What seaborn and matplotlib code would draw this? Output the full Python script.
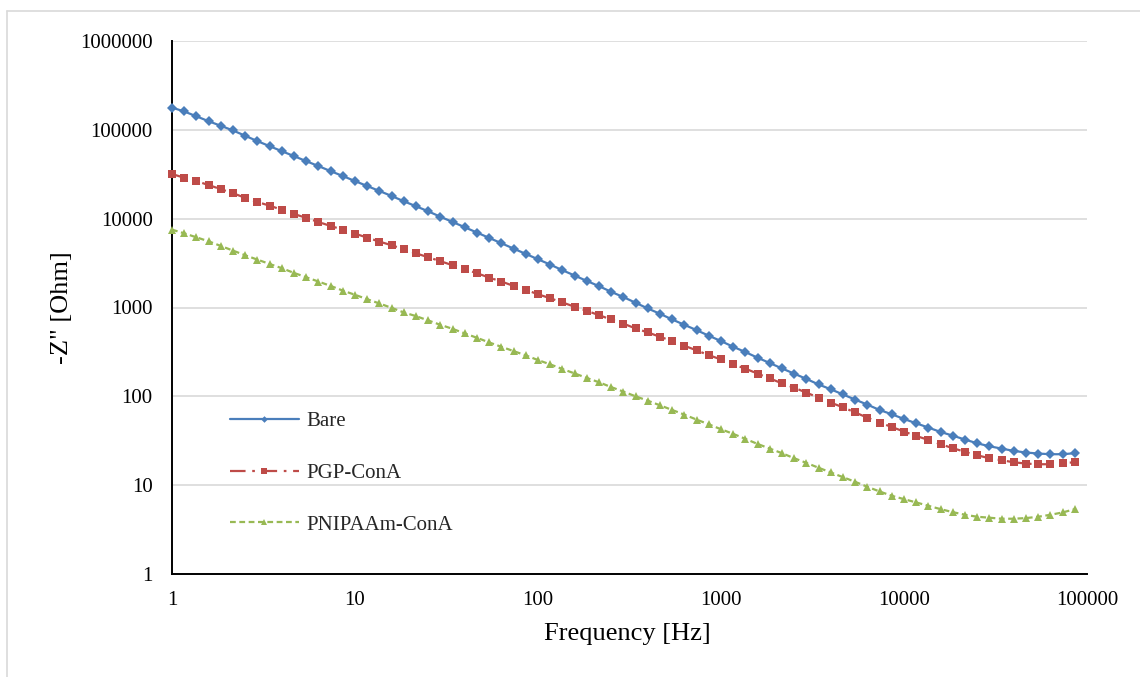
import matplotlib
matplotlib.use("Agg")
import matplotlib.pyplot as plt
from matplotlib.lines import Line2D
from matplotlib.ticker import FixedLocator, FixedFormatter, NullLocator
import seaborn as sns
import pandas as pd

freq = [1, 1.166, 1.359, 1.585, 1.848, 2.154, 2.512, 2.929, 3.415, 3.981, 4.642, 5.412, 6.310, 7.356, 8.577,
        10, 11.66, 13.59, 15.85, 18.48, 21.54, 25.12, 29.29, 34.15, 39.81, 46.42, 54.12, 63.10, 73.56, 85.77,
        100, 116.6, 135.9, 158.5, 184.8, 215.4, 251.2, 292.9, 341.5, 398.1, 464.2, 541.2, 631.0, 735.6, 857.7,
        1000, 1166, 1359, 1585, 1848, 2154, 2512, 2929, 3415, 3981, 4642, 5412, 6310, 7356, 8577,
        10000, 11660, 13590, 15850, 18480, 21540, 25120, 29290, 34150, 39810, 46420, 54120, 63100, 73560, 85770]

bare = [178000, 161000, 142000, 125000, 111000, 98400, 85700, 74600, 65500, 57500, 50600, 44400, 39100, 34300,
        30200, 26500, 23300, 20500, 18000,
        15700, 13800, 12100, 10500, 9180, 8000, 6970, 6070, 5290, 4600, 4010, 3490, 3040, 2630, 2290, 1990,
        1740, 1500, 1310,
        1130, 975, 849, 733, 638, 556, 481, 419, 361, 315, 272, 237, 206, 180, 157, 136, 120, 105, 91.8,
        80.6, 70.2, 62.8, 55.6, 49.7, 44.5, 39.7, 36.1, 32.6, 29.6, 27.4, 25.8, 24.3, 23.3, 22.7, 22.3, 22.3, 22.9]

pgp_cona = [31800, 28900, 26500, 23900, 21500, 19300, 17200, 15400, 14000, 12600, 11300, 10200, 9180, 8270,
            7520, 6780, 6120, 5520, 5020,
            4520, 4070, 3680, 3320, 2990, 2700, 2430, 2170, 1960, 1750, 1580, 1410, 1270, 1140, 1020, 918,
            820, 733, 658,
            581, 524, 468, 419, 371, 329, 291, 260, 229, 205, 180, 159, 140, 125, 110, 96.6, 84.9, 75.2, 65.8,
            57.5, 50.6, 45.2, 40.1, 35.8, 32.3, 28.9, 26.1, 23.7, 21.7, 20.1, 19.1, 18.1, 17.5, 17.2, 17.2,
            17.7, 18.1]

pnipaam_cona = [7520, 6840, 6170, 5560, 4930, 4370, 3870, 3460, 3090, 2770, 2450, 2190, 1960, 1750, 1550,
                1390, 1240, 1110, 991,
                879, 800, 715, 638, 575, 510, 456, 404, 361, 323, 289, 256, 229, 203, 181, 161, 144, 127, 113,
                100, 89.3, 79.2, 70.2, 62.2, 54.7, 48.4, 42.6, 37.8, 33.2, 29.1, 25.8, 22.9, 20.1, 17.8,
                15.7, 13.9, 12.3, 10.9,
                9.58, 8.49, 7.59, 6.96, 6.39, 5.86, 5.37, 4.97, 4.64, 4.41, 4.30, 4.19, 4.19, 4.26, 4.41,
                4.64, 4.93, 5.37]

series_names = ["Bare", "PGP-ConA", "PNIPAAm-ConA"]
series_values = [bare, pgp_cona, pnipaam_cona]

x_ticks = [1, 10, 100, 1000, 10000, 100000]
x_tick_labels = ["1", "10", "100", "1000", "10000", "100000"]
y_ticks = [1, 10, 100, 1000, 10000, 100000, 1000000]
y_tick_labels = ["1", "10", "100", "1000", "10000", "100000", "1000000"]

sns.set_theme(style="white")
plt.rcParams["font.family"] = ["Liberation Serif", "DejaVu Serif"]

fig = plt.figure(figsize=(11.4, 6.77), dpi=100)
ax = fig.add_axes([172 / 1140, 1 - 574 / 677, (1087 - 172) / 1140, (574 - 41) / 677])

styles = {
    "Bare": dict(color="#4A7EBB", marker="D", markersize=4.8, linestyle="-"),
    "PGP-ConA": dict(color="#BE4B48", marker="s", markersize=6.4, linestyle=(0, (7, 3, 1.2, 3))),
    "PNIPAAm-ConA": dict(color="#98B954", marker="^", markersize=6.2, linestyle=(0, (2.6, 1.6))),
}

for name, vals in zip(series_names, series_values):
    df = pd.DataFrame({"Frequency": freq, "Z": vals})
    st = styles[name]
    sns.lineplot(data=df, x="Frequency", y="Z", ax=ax, label=name, color=st["color"],
                 marker=st["marker"], markersize=st["markersize"], linestyle=st["linestyle"],
                 linewidth=1.6, markeredgewidth=0, clip_on=False, zorder=3)

ax.set_xscale("log")
ax.set_yscale("log")
ax.set_xlim(1, 100000)
ax.set_ylim(1, 1000000)
ax.xaxis.set_major_locator(FixedLocator(x_ticks))
ax.xaxis.set_major_formatter(FixedFormatter(x_tick_labels))
ax.yaxis.set_major_locator(FixedLocator(y_ticks))
ax.yaxis.set_major_formatter(FixedFormatter(y_tick_labels))
ax.xaxis.set_minor_locator(NullLocator())
ax.yaxis.set_minor_locator(NullLocator())

ax.grid(False)
ax.yaxis.grid(True, color="#D9D9D9", linewidth=1.2)
ax.set_axisbelow(True)
for side in ["top", "right"]:
    ax.spines[side].set_visible(False)
for side in ["left", "bottom"]:
    ax.spines[side].set_color("black")
    ax.spines[side].set_linewidth(1.4)
ax.tick_params(axis="both", which="both", length=0, labelsize=15, colors="black")
ax.tick_params(axis="y", pad=14)
ax.tick_params(axis="x", pad=12)

ax.set_xlabel("Frequency [Hz]", fontsize=19, color="black")
ax.set_ylabel('-Z" [Ohm]', fontsize=19, color="black")
ax.xaxis.set_label_coords(0.498, -0.1126)
ax.xaxis.label.set_verticalalignment("center")
ax.yaxis.set_label_coords(-0.120, 0.5)
ax.yaxis.label.set_verticalalignment("center")

leg = ax.legend(loc="upper left", bbox_to_anchor=(0.0634, 0.305), frameon=False, fontsize=15,
                handlelength=3.3, handletextpad=0.35, labelspacing=1.55, borderpad=0,
                borderaxespad=0, numpoints=1)
for line in leg.get_lines():
    line.set_markersize(line.get_markersize() * 0.7)

# chart area border (Excel-style)
fig.add_artist(Line2D([7 / 1140, 1.0], [1 - 11 / 677, 1 - 11 / 677], color="#D9D9D9", linewidth=1.2,
                      transform=fig.transFigure))
fig.add_artist(Line2D([7 / 1140, 7 / 1140], [0.0, 1 - 11 / 677], color="#D9D9D9", linewidth=1.2,
                      transform=fig.transFigure))

fig.savefig("out.png", dpi=100, facecolor="white")
